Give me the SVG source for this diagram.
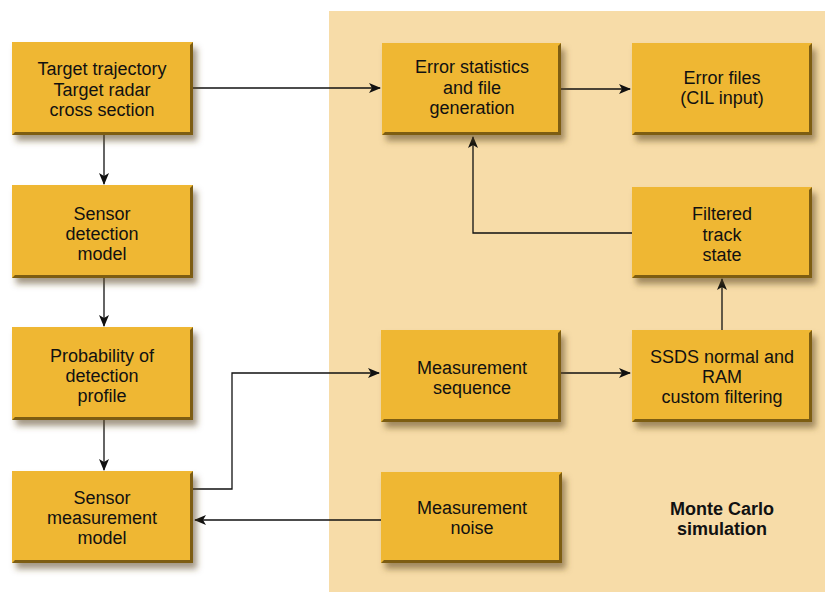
<svg xmlns="http://www.w3.org/2000/svg" width="825" height="592" viewBox="0 0 825 592">
  <defs>
    <filter id="sh" x="-10%" y="-10%" width="130%" height="140%">
      <feGaussianBlur in="SourceAlpha" stdDeviation="3"/>
      <feOffset dx="4" dy="6" result="b"/>
      <feFlood flood-color="#5a4520" flood-opacity="0.55"/>
      <feComposite in2="b" operator="in"/>
    </filter>
    <marker id="ah" viewBox="0 0 12 10" refX="11" refY="5" markerWidth="12" markerHeight="10" markerUnits="userSpaceOnUse" orient="auto">
      <path d="M0,0 L12,5 L0,10 L3,5 Z" fill="#111"/>
    </marker>
  </defs>
  <style>
    .shadow { filter: url(#sh); fill: #000; }
    .face { fill: #EFB733; }
    .edge { fill: #7d5d12; }
    text { font-family: "Liberation Sans", Arial, sans-serif; font-size: 18px; fill: #111; text-anchor: middle; }
    .bold { font-weight: bold; font-size: 18px; }
    .conn { fill: none; stroke: #111; stroke-width: 1.3; }
  </style>

  <rect x="0" y="0" width="825" height="592" fill="#ffffff"/>
  <rect id="panel" x="329" y="11" width="496" height="581" fill="#F7DCA8"/>

  <g id="connectors">
    <path class="conn" d="M193,88 H380" marker-end="url(#ah)"/>
    <path class="conn" d="M561,89 H630" marker-end="url(#ah)"/>
    <path class="conn" d="M104,135 V184" marker-end="url(#ah)"/>
    <path class="conn" d="M104,278 V326" marker-end="url(#ah)"/>
    <path class="conn" d="M104,420 V470" marker-end="url(#ah)"/>
    <path class="conn" d="M193,489 H232 V373 H379" marker-end="url(#ah)"/>
    <path class="conn" d="M381,520 H195" marker-end="url(#ah)"/>
    <path class="conn" d="M561,373 H630" marker-end="url(#ah)"/>
    <path class="conn" d="M722,330 V279" marker-end="url(#ah)"/>
    <path class="conn" d="M632,233 H473 V137" marker-end="url(#ah)"/>
  </g>

  <g id="n1">
    <rect class="shadow" x="12" y="42" width="181" height="93"/>
    <rect class="face" x="12" y="42" width="181" height="93"/>
    <path class="edge" d="M193,42 V135 H12 L15,132 H190 V45 Z"/>
    <text x="102" y="75.3">Target trajectory</text>
    <text x="102" y="95.5">Target radar</text>
    <text x="102" y="115.7">cross section</text>
  </g>
  <g id="n2">
    <rect class="shadow" x="12" y="185" width="181" height="93"/>
    <rect class="face" x="12" y="185" width="181" height="93"/>
    <path class="edge" d="M193,185 V278 H12 L15,275 H190 V188 Z"/>
    <text x="102" y="219.8">Sensor</text>
    <text x="102" y="240">detection</text>
    <text x="102" y="260.2">model</text>
  </g>
  <g id="n3">
    <rect class="shadow" x="12" y="327" width="181" height="93"/>
    <rect class="face" x="12" y="327" width="181" height="93"/>
    <path class="edge" d="M193,327 V420 H12 L15,417 H190 V330 Z"/>
    <text x="102" y="361.8">Probability of</text>
    <text x="102" y="382">detection</text>
    <text x="102" y="402.2">profile</text>
  </g>
  <g id="n4">
    <rect class="shadow" x="12" y="471" width="181" height="92"/>
    <rect class="face" x="12" y="471" width="181" height="92"/>
    <path class="edge" d="M193,471 V563 H12 L15,560 H190 V474 Z"/>
    <text x="102" y="503.8">Sensor</text>
    <text x="102" y="524">measurement</text>
    <text x="102" y="544.2">model</text>
  </g>
  <g id="n5">
    <rect class="shadow" x="382" y="43" width="179" height="92"/>
    <rect class="face" x="382" y="43" width="179" height="92"/>
    <path class="edge" d="M561,43 V135 H382 L385,132 H558 V46 Z"/>
    <text x="472" y="73.3">Error statistics</text>
    <text x="472" y="93.5">and file</text>
    <text x="472" y="113.7">generation</text>
  </g>
  <g id="n6">
    <rect class="shadow" x="632" y="43" width="180" height="92"/>
    <rect class="face" x="632" y="43" width="180" height="92"/>
    <path class="edge" d="M812,43 V135 H632 L635,132 H809 V46 Z"/>
    <text x="722" y="83.9">Error files</text>
    <text x="722" y="104.1">(CIL input)</text>
  </g>
  <g id="n7">
    <rect class="shadow" x="632" y="187" width="180" height="91"/>
    <rect class="face" x="632" y="187" width="180" height="91"/>
    <path class="edge" d="M812,187 V278 H632 L635,275 H809 V190 Z"/>
    <text x="722" y="220.3">Filtered</text>
    <text x="722" y="240.5">track</text>
    <text x="722" y="260.7">state</text>
  </g>
  <g id="n8">
    <rect class="shadow" x="632" y="330" width="180" height="92"/>
    <rect class="face" x="632" y="330" width="180" height="92"/>
    <path class="edge" d="M812,330 V422 H632 L635,419 H809 V333 Z"/>
    <text x="722" y="362.8">SSDS normal and</text>
    <text x="722" y="383">RAM</text>
    <text x="722" y="403.2">custom filtering</text>
  </g>
  <g id="n9">
    <rect class="shadow" x="381" y="330" width="180" height="92"/>
    <rect class="face" x="381" y="330" width="180" height="92"/>
    <path class="edge" d="M561,330 V422 H381 L384,419 H558 V333 Z"/>
    <text x="472" y="373.6">Measurement</text>
    <text x="472" y="393.8">sequence</text>
  </g>
  <g id="n10">
    <rect class="shadow" x="381" y="472" width="181" height="91"/>
    <rect class="face" x="381" y="472" width="181" height="91"/>
    <path class="edge" d="M562,472 V563 H381 L384,560 H559 V475 Z"/>
    <text x="472" y="513.6">Measurement</text>
    <text x="472" y="533.8">noise</text>
  </g>

  <g id="label">
    <text class="bold" x="722" y="514.9">Monte Carlo</text>
    <text class="bold" x="722" y="535.1">simulation</text>
  </g>
</svg>
